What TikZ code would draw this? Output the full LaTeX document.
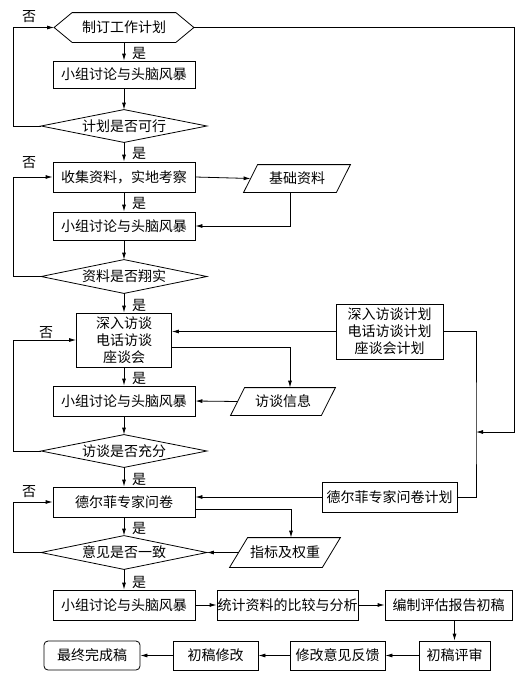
\documentclass[tikz,border=0pt]{standalone}
\usepackage{fontspec}
\setmainfont{Noto Sans CJK SC}
\usetikzlibrary{arrows.meta}
\newcommand\drawpara[2]{\draw ([xshift=#2]#1.north west) -- ([xshift=#2]#1.north east) -- ([xshift=-#2]#1.south east) -- ([xshift=-#2]#1.south west) -- cycle;}
\newcommand\drawdia[1]{\draw (#1.west) -- (#1.north) -- (#1.east) -- (#1.south) -- cycle;}
\begin{document}
\begin{tikzpicture}[x=1pt,y=-1pt,
  font=\fontsize{14}{17}\selectfont,
  line width=0.8pt,
  arr/.style={-{Latex[length=7pt,width=4pt]}},
  box/.style={draw, inner sep=0pt, minimum width=#1, minimum height=30pt, align=center},
  box/.default=142pt,
  inv/.style={inner sep=0pt, align=center},
  lbl/.style={inner sep=0pt},
]
\useasboundingbox (0,0) rectangle (527,681);
% nodes
\node[inv, minimum width=139pt, minimum height=29pt] (hex) at (124,27.5) {制订工作计划};
\draw (hex.west) -- ([xshift=18pt]hex.north west) -- ([xshift=-18pt]hex.north east) -- (hex.east) -- ([xshift=-18pt]hex.south east) -- ([xshift=18pt]hex.south west) -- cycle;
\node[box, minimum height=27pt] (b1) at (124,74.5) {小组讨论与头脑风暴};
\node[inv, minimum width=165pt, minimum height=32pt] (d1) at (124,126) {计划是否可行};
\drawdia{d1}
\node[box] (b2) at (124,177) {收集资料，实地考察};
\node[inv, minimum width=92pt, minimum height=27pt] (p1) at (297,178.5) {基础资料};
\drawpara{p1}{7pt}
\node[box, minimum height=28pt] (b3) at (124,226) {小组讨论与头脑风暴};
\node[inv, minimum width=165pt, minimum height=33pt] (d2) at (124,276.5) {资料是否翔实};
\drawdia{d2}
\node[box=95pt, minimum height=54pt] (b4) at (124,340) {深入访谈\\电话访谈\\座谈会};
\node[box=107pt, minimum height=55pt] (pl1) at (389.5,331.5) {深入访谈计划\\电话访谈计划\\座谈会计划};
\node[inv, minimum width=90pt, minimum height=27pt] (p2) at (283,401.5) {访谈信息};
\drawpara{p2}{7pt}
\node[box] (b5) at (124,401) {小组讨论与头脑风暴};
\node[inv, minimum width=165pt, minimum height=32pt] (d3) at (124,451) {访谈是否充分};
\drawdia{d3}
\node[box] (b6) at (124,502) {德尔菲专家问卷};
\node[box=135pt] (pl2) at (389.5,497) {德尔菲专家问卷计划};
\node[inv, minimum width=92pt, minimum height=29pt] (p3) at (285,552.5) {指标及权重};
\drawpara{p3}{9pt}
\node[inv, minimum width=165pt, minimum height=33pt] (d4) at (124,552.5) {意见是否一致};
\drawdia{d4}
\node[box] (b7) at (124,605) {小组讨论与头脑风暴};
\node[box=141pt] (b8) at (287.5,605) {统计资料的比较与分析};
\node[box=127pt] (b9) at (448.5,605) {编制评估报告初稿};
\node[box=71pt, minimum height=29pt] (b10) at (454.5,655.5) {初稿评审};
\node[box=95pt, minimum height=29pt] (b11) at (337.5,655.5) {修改意见反馈};
\node[box=85pt, minimum height=29pt] (b12) at (215.5,655.5) {初稿修改};
\node[box=96pt, minimum height=29pt, rounded corners=4pt] (b13) at (92,655.5) {最终完成稿};
% helper coordinates
\coordinate (lx) at (13,0);
\coordinate (J) at (476,432);
\coordinate (R) at (514,432);
% main column
\draw[arr] (hex.south) -- (b1.north);
\draw[arr] (b1.south) -- (d1.north);
\draw[arr] (d1.south) -- (b2.north);
\draw[arr] (b2.south) -- (b3.north);
\draw[arr] (b3.south) -- (d2.north);
\draw[arr] (d2.south) -- (b4.north);
\draw[arr] (b4.south) -- (b5.north);
\draw[arr] (b5.south) -- (d3.north);
\draw[arr] (d3.south) -- (b6.north);
\draw[arr] (b6.south) -- (d4.north);
\draw[arr] (d4.south) -- (b7.north);
% loops
\draw[arr] (d1.west) -- (d1.west -| lx) |- (hex.west);
\draw[arr] (d2.west) -- (d2.west -| lx) |- (b2.west);
\draw[arr] (d3.west) -- (d3.west -| lx) |- (b4.west);
\draw[arr] (d4.west) -- (d4.west -| lx) |- (b6.west);
% side data
\draw[arr] (b2.east) -- (p1.west);
\draw[arr] ([xshift=-7pt]p1.south) |- (b3.east);
\draw[arr] ([yshift=-7pt]b4.east) -| ([xshift=7pt]p2.north);
\draw[arr] (p2.west) -- (b5.east);
\draw[arr] ([yshift=-7pt]b6.east) -| ([xshift=6pt]p3.north);
\draw[arr] (p3.west) -- (d4.east);
% plans
\draw[arr] (hex.east) -| (R) -- (J);
\draw[arr] (pl1.west) -- (pl1.west -| b4.east);
\draw (pl1.east) -| (J) |- (pl2.east);
\draw[arr] (pl2.west) -- (pl2.west -| b6.east);
% bottom rows
\draw[arr] (b7.east) -- (b8.west);
\draw[arr] (b8.east) -- (b9.west);
\draw[arr] (b9.south -| b10.north) -- (b10.north);
\draw[arr] (b10.west) -- (b11.east);
\draw[arr] (b11.west) -- (b12.east);
\draw[arr] (b12.west) -- (b13.east);
% labels
\node[lbl] (y1) at (139,53) {是};
\node[lbl] (y2) at (139,153) {是};
\node[lbl] (y3) at (139,203) {是};
\node[lbl] (y4) at (139,305) {是};
\node[lbl] (y5) at (139,378) {是};
\node[lbl] (y6) at (139,479) {是};
\node[lbl] (y7) at (139,528) {是};
\node[lbl] (y8) at (139,582) {是};
\node[lbl] (n1) at (29,17) {否};
\node[lbl] (n2) at (29,163) {否};
\node[lbl] (n3) at (46,333) {否};
\node[lbl] (n4) at (29,492) {否};
\end{tikzpicture}
\end{document}
